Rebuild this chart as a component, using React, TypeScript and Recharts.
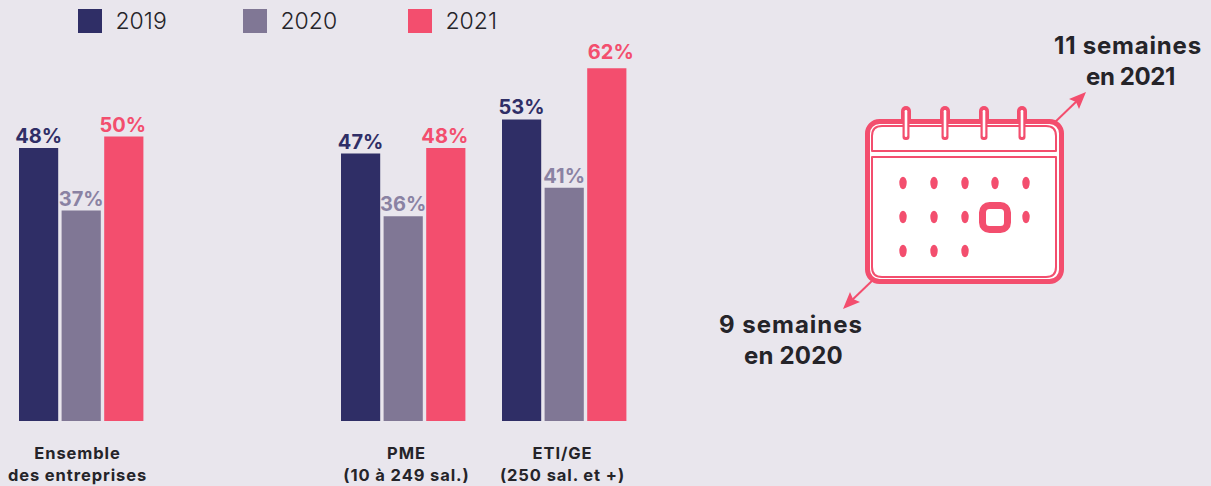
import { Bar, BarChart, LabelList, Legend, XAxis, YAxis } from "recharts";

const categories = ["Ensemble|des entreprises", "", "PME|(10 à 249 sal.)", "ETI/GE|(250 sal. et +)"];
const tickShift = [-4, 0, 3, -2];
const values2019 = [48, null, 47, 53];
const values2020 = [37, null, 36, 41];
const values2021 = [50, null, 48, 62];

const rows = categories.map((category, i) => ({
	category,
	y2019: values2019[i],
	y2020: values2020[i],
	y2021: values2021[i],
}));

const NAVY = "#2f2e66";
const MAUVE = "#807795";
const MAUVE_LABEL = "#8a82a3";
const PINK = "#f34e6e";
const TEXT = "#252429";
const BG = "#e9e6ed";
const FONT = "Inter, sans-serif";

const ringX = [906, 945, 984, 1022];
const dotRows = [
	{ y: 183, xs: [903, 934, 965, 995, 1026] },
	{ y: 217, xs: [903, 934, 965, 1026] },
	{ y: 251, xs: [903, 934, 965] },
];

function CategoryTick({ x, y, payload, index }: any) {
	if (!payload.value) return null;
	const lines = String(payload.value).split("|");
	const tx = x + (tickShift[index] ?? 0);
	return (
		<text x={tx} y={y} textAnchor="middle" fill={TEXT} fontFamily={FONT} fontSize={16.5} fontWeight={700} letterSpacing={0.9}>
			{lines.map((line, i) => (
				<tspan key={line} x={tx} dy={i === 0 ? 0 : 22}>
					{line}
				</tspan>
			))}
		</text>
	);
}

function YearLegend({ payload }: any) {
	return (
		<div style={{ display: "flex", gap: 0 }}>
			{(payload ?? []).map((item: any) => (
				<div key={item.value} style={{ width: 165, display: "flex", alignItems: "center" }}>
					<span style={{ width: 24, height: 24, background: item.color, marginRight: 13.5 }} />
					<span style={{ fontFamily: FONT, fontSize: 23, fontWeight: 300, color: TEXT }}>{item.value}</span>
				</div>
			))}
		</div>
	);
}

// the 62% label sits a bit higher and to the right of its bar in the original
function PinkLabel({ x, y, width, value }: any) {
	if (value == null) return null;
	const lifted = value === 62;
	return (
		<text
			x={x + width / 2 + (lifted ? 4 : -1)}
			y={y - 5 - (lifted ? 4 : 0)}
			textAnchor="middle"
			fill={PINK}
			fontFamily={FONT}
			fontSize={20}
			fontWeight={700}
		>
			{`${value}%`}
		</text>
	);
}

function CalendarNote() {
	return (
		<svg width={1211} height={486} style={{ position: "absolute", left: 0, top: 0 }}>
			<line x1={1052} y1={125} x2={1080} y2={98} stroke={PINK} strokeWidth={2} />
			<polygon points="1086,92 1069,99 1076,102 1079,109" fill={PINK} />
			<line x1={875} y1={278} x2={849} y2={303} stroke={PINK} strokeWidth={2} />
			<polygon points="843,309 860,302 853,299 850,292" fill={PINK} />

			<rect x={867.5} y={121.5} width={194} height={160} rx={12} fill="#fff" stroke={PINK} strokeWidth={5} />
			<path d="M872 151 V136 Q872 126 882 126 H1046 Q1056 126 1056 136 V151 Z" fill="#fff" stroke={PINK} strokeWidth={2} strokeLinejoin="round" />
			<path d="M872 157 H1056 V267 Q1056 277 1046 277 H882 Q872 277 872 267 Z" fill="#fff" stroke={PINK} strokeWidth={2} strokeLinejoin="round" />
			{ringX.map((x) => (
				<g key={x}>
					<rect x={x - 5} y={106} width={10} height={18} rx={5} fill={PINK} />
					<rect x={x - 3.5} y={112} width={7} height={28} rx={3} fill={PINK} />
					<rect x={x - 1.3} y={110} width={2.6} height={27} rx={1.3} fill="#fff" />
				</g>
			))}
			{dotRows.map((row) =>
				row.xs.map((x) => <ellipse key={`${row.y}-${x}`} cx={x} cy={row.y} rx={3.7} ry={6.2} fill={PINK} />),
			)}
			<rect x={982.5} y={205.5} width={25} height={24} rx={7} fill="#fff" stroke={PINK} strokeWidth={7} />

			<g fill={TEXT} fontFamily={FONT} fontSize={24} fontWeight={700}>
				<text x={1054} y={54} letterSpacing={0.8}>11 semaines</text>
				<text x={1086} y={85} letterSpacing={-0.4}>en 2021</text>
				<text x={719} y={333} letterSpacing={1}>9 semaines</text>
				<text x={744} y={364} letterSpacing={0.2}>en 2020</text>
			</g>
		</svg>
	);
}

export default function App() {
	return (
		<div style={{ position: "absolute", left: 0, top: 0, width: 1211, height: 486, background: BG, overflow: "hidden" }}>
			<BarChart
				width={1211}
				height={486}
				data={rows}
				barSize={39.2}
				barGap={3.4}
				margin={{ top: 0, right: 566, bottom: 0, left: 1 }}
			>
				<XAxis
					dataKey="category"
					axisLine={false}
					tickLine={false}
					interval={0}
					height={65}
					tick={<CategoryTick />}
					tickMargin={32}
				/>
				<YAxis hide domain={[0, 74]} />
				<Legend
					content={<YearLegend />}
					layout="horizontal"
					verticalAlign="middle"
					align="center"
					wrapperStyle={{ position: "absolute", left: 78, top: 7, width: 520, bottom: "auto" }}
				/>
				<Bar dataKey="y2019" name="2019" fill={NAVY} isAnimationActive={false}>
					<LabelList dataKey="y2019" position="top" offset={5} formatter={(v: any) => `${v}%`} fill={NAVY} fontFamily={FONT} fontSize={20} fontWeight={700} />
				</Bar>
				<Bar dataKey="y2020" name="2020" fill={MAUVE} isAnimationActive={false}>
					<LabelList dataKey="y2020" position="top" offset={5} formatter={(v: any) => `${v}%`} fill={MAUVE_LABEL} fontFamily={FONT} fontSize={20} fontWeight={700} />
				</Bar>
				<Bar dataKey="y2021" name="2021" fill={PINK} isAnimationActive={false}>
					<LabelList dataKey="y2021" content={<PinkLabel />} />
				</Bar>
			</BarChart>
			<CalendarNote />
		</div>
	);
}
